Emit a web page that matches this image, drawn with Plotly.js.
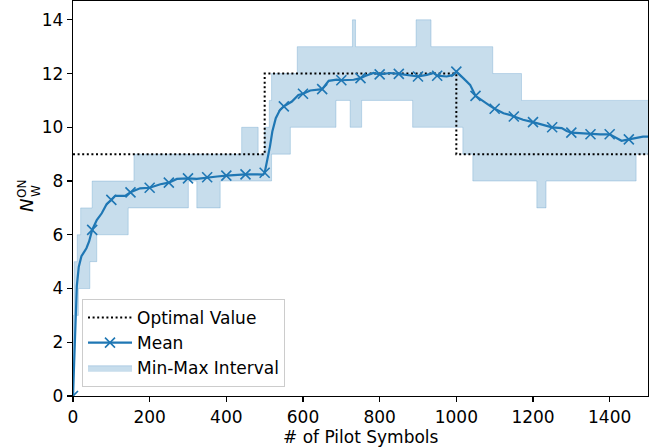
<!DOCTYPE html>
<html>
<head>
<meta charset="utf-8">
<script src="https://cdn.plot.ly/plotly-3.0.1.min.js"></script>
<style>html,body{margin:0;padding:0;background:#fff;} #chart{width:667px;height:448px;}</style>
</head>
<body>
<div id="chart"></div>
<script>
// Optimal value (step)
var optX = [0, 500, 1000, 1500];
var optY = [9, 12, 9, 9];

// Mean curve
var meanX = [0, 3, 6, 10, 15, 22, 35, 42, 50, 62, 75, 88, 100, 110, 136, 150, 175, 200, 228, 250, 271, 300, 323, 350, 376, 400, 450, 481, 496, 500, 507, 514, 520, 529, 540, 550, 571, 588, 600, 619, 650, 667, 688, 700, 732, 750, 762, 784, 800, 827, 850, 870, 888, 900, 923, 941, 950, 975, 992, 1000, 1018, 1036, 1050, 1070, 1088, 1100, 1123, 1140, 1150, 1174, 1200, 1226, 1250, 1275, 1288, 1300, 1327, 1350, 1375, 1400, 1418, 1431, 1450, 1470, 1487, 1500];
var meanY = [0, 1.5, 3.0, 4.1, 4.8, 5.2, 5.5, 5.75, 6.18, 6.55, 6.8, 7.15, 7.30, 7.45, 7.45, 7.58, 7.73, 7.75, 7.88, 7.94, 8.08, 8.10, 8.08, 8.14, 8.17, 8.20, 8.25, 8.25, 8.24, 8.31, 8.79, 9.3, 9.84, 10.34, 10.65, 10.78, 10.96, 11.2, 11.25, 11.37, 11.42, 11.73, 11.77, 11.75, 11.77, 11.83, 11.91, 12.02, 11.97, 12.02, 11.99, 11.95, 11.92, 11.89, 11.95, 12.02, 11.92, 11.89, 11.95, 12.07, 11.83, 11.58, 11.17, 10.96, 10.80, 10.69, 10.52, 10.46, 10.40, 10.28, 10.19, 10.09, 10.00, 9.97, 9.86, 9.80, 9.77, 9.74, 9.74, 9.74, 9.59, 9.50, 9.55, 9.60, 9.65, 9.65];

// Min-Max interval (steps)
var minX = [0, 2, 4, 6, 14, 44, 62, 144, 301, 323, 384, 518, 567, 686, 723, 753, 886, 1017, 1043, 1210, 1234, 1469, 1500];
var minY = [0, 1, 2, 3, 4, 5, 6, 7, 8, 7, 8, 9, 10, 11, 10, 11, 10, 9, 8, 7, 8, 9, 9];
var maxX = [0, 1, 3, 11, 20, 50, 159, 440, 483, 500, 512, 518, 585, 729, 737, 895, 934, 1095, 1170, 1500];
var maxY = [0, 3, 5, 6, 7, 8, 9, 10, 9, 10, 11, 12, 13, 14, 13, 14, 13, 12, 11, 11];

var xTicks = [0, 200, 400, 600, 800, 1000, 1200, 1400];
var yTicks = [0, 2, 4, 6, 8, 10, 12, 14];

var markEvery = 50;
var mkX = [], mkY = [];
for (var i = 0; i < meanX.length; i++) {
  if (meanX[i] % markEvery === 0 && meanX[i] < 1500) { mkX.push(meanX[i]); mkY.push(meanY[i]); }
}

var blue = '#1f77b4';
var fillC = 'rgba(31,119,180,0.25)';
var edgeC = 'rgba(31,119,180,0.22)';
var F = 'DejaVu Sans, Liberation Sans, sans-serif';
var FS = 17;

var traces = [
  {x: minX, y: minY, mode: 'lines', line: {shape: 'hv', width: 1, color: edgeC}, showlegend: false, hoverinfo: 'skip'},
  {x: maxX, y: maxY, mode: 'lines', line: {shape: 'hv', width: 1, color: edgeC}, fill: 'tonexty', fillcolor: fillC,
   name: 'Min-Max Interval', legendrank: 3, legendgroup: 'c'},
  {x: optX, y: optY, mode: 'lines', line: {shape: 'hv', width: 2, color: '#000', dash: '2px,2.6px'},
   name: 'Optimal Value', legendrank: 1, legendgroup: 'a'},
  {x: meanX, y: meanY, mode: 'lines', line: {width: 2.2, color: blue}, showlegend: false},
  {x: mkX, y: mkY, mode: 'markers', marker: {symbol: 'x-thin', size: 10, color: blue, line: {width: 1.6, color: blue}}, showlegend: false},
  {x: [null], y: [null], mode: 'lines+markers', line: {width: 2.2, color: blue},
   marker: {symbol: 'x-thin', size: 10, color: blue, line: {width: 1.6, color: blue}},
   name: 'Mean', legendrank: 2, legendgroup: 'b'}
];

var L = 73, R = 648, T = 1, B = 396;
var W = R - L, H = B - T;
function px2x(p){ return (p - L) / W; }
function py2y(p){ return (B - p) / H; }

var layout = {
  width: 667, height: 448,
  margin: {l: L, r: 667 - R, t: T, b: 448 - B, pad: 0},
  paper_bgcolor: '#fff', plot_bgcolor: '#fff',
  font: {family: F, size: FS, color: '#000'},
  showlegend: true,
  legend: {x: px2x(82), y: py2y(387), xanchor: 'left', yanchor: 'bottom',
    bgcolor: 'rgba(255,255,255,0.8)', bordercolor: '#cccccc', borderwidth: 1,
    font: {family: F, size: FS, color: '#000'}, traceorder: 'grouped', tracegroupgap: 0, itemwidth: 44},
  xaxis: {range: [0, 1500], tickvals: xTicks, ticktext: xTicks.map(String), ticks: 'outside', ticklen: 5, tickwidth: 1.2,
    tickcolor: '#000', showline: true, linecolor: '#000', linewidth: 1.2, mirror: true, showgrid: false, zeroline: false,
    tickfont: {family: F, size: FS, color: '#000'}},
  yaxis: {range: [0, 14.7], tickvals: yTicks, ticktext: yTicks.map(String), ticks: 'outside', ticklen: 5, tickwidth: 1.2,
    tickcolor: '#000', showline: true, linecolor: '#000', linewidth: 1.2, mirror: true, showgrid: false, zeroline: false,
    tickfont: {family: F, size: FS, color: '#000'}},
  annotations: [
    {text: '# of Pilot Symbols', xref: 'paper', yref: 'paper', x: 0.5, y: py2y(437), xanchor: 'center', yanchor: 'middle',
     showarrow: false, font: {family: F, size: FS, color: '#000'}},
    {text: '<i>N</i>', xref: 'paper', yref: 'paper', x: px2x(26), y: py2y(206), xanchor: 'center', yanchor: 'middle',
     textangle: -90, showarrow: false, font: {family: F, size: 18, color: '#000'}},
    {text: 'W', xref: 'paper', yref: 'paper', x: px2x(36), y: py2y(191), xanchor: 'center', yanchor: 'middle',
     textangle: -90, showarrow: false, font: {family: F, size: 12, color: '#000'}},
    {text: 'ON', xref: 'paper', yref: 'paper', x: px2x(22), y: py2y(189), xanchor: 'center', yanchor: 'middle',
     textangle: -90, showarrow: false, font: {family: F, size: 12, color: '#000'}}
  ]
};

Plotly.newPlot('chart', traces, layout, {displayModeBar: false, staticPlot: true});
</script>
</body>
</html>
